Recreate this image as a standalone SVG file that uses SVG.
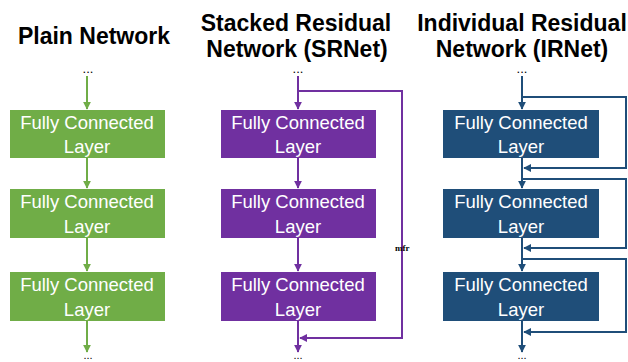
<svg xmlns="http://www.w3.org/2000/svg" width="628" height="362" viewBox="0 0 628 362">
<defs>
<marker id="ag" viewBox="0 0 10 10" refX="9" refY="5" markerWidth="4" markerHeight="4" orient="auto" markerUnits="strokeWidth"><path d="M0,0 L10,5 L0,10 z" fill="#70AD47"/></marker>
<marker id="ap" viewBox="0 0 10 10" refX="9" refY="5" markerWidth="4" markerHeight="4" orient="auto" markerUnits="strokeWidth"><path d="M0,0 L10,5 L0,10 z" fill="#7030A0"/></marker>
<marker id="ab" viewBox="0 0 10 10" refX="9" refY="5" markerWidth="4" markerHeight="4" orient="auto" markerUnits="strokeWidth"><path d="M0,0 L10,5 L0,10 z" fill="#1F4E79"/></marker>
</defs>
<style>
.title{font-family:"Liberation Sans",Arial,sans-serif;font-weight:bold;font-size:23px;fill:#000;text-anchor:middle}
.lbl{font-family:"Liberation Sans",Arial,sans-serif;font-size:18.5px;fill:#fff;text-anchor:middle}
.dots{font-family:"Liberation Sans",Arial,sans-serif;font-size:13px;fill:#000;text-anchor:middle}
.bdots{font-family:"Liberation Sans",Arial,sans-serif;font-size:11px;fill:#000;text-anchor:middle}
.g{fill:#70AD47}.p{fill:#7030A0}.b{fill:#1F4E79}
.cg{stroke:#70AD47;stroke-width:2;fill:none}
.cp{stroke:#7030A0;stroke-width:2;fill:none}
.cb{stroke:#1F4E79;stroke-width:2;fill:none}
.mfr{font-family:"Liberation Serif",serif;font-weight:bold;font-size:9px;fill:#000}
</style>
<g id="titles">
<text class="title" x="94" y="44">Plain Network</text>
<text class="title" x="296" y="31">Stacked Residual</text>
<text class="title" x="297" y="57">Network (SRNet)</text>
<text class="title" x="522" y="31">Individual Residual</text>
<text class="title" x="522" y="57">Network (IRNet)</text>
</g>
<g id="dots">
<text class="dots" x="88" y="73">...</text>
<text class="dots" x="298" y="73">...</text>
<text class="dots" x="522" y="73">...</text>
<text class="bdots" x="88" y="359">...</text>
<text class="bdots" x="298" y="359">...</text>
<text class="bdots" x="522" y="359">...</text>
</g>
<g id="connectors">
<path class="cg" d="M87,76 V109" marker-end="url(#ag)"/>
<path class="cg" d="M87,158 V188" marker-end="url(#ag)"/>
<path class="cg" d="M87,238 V271" marker-end="url(#ag)"/>
<path class="cg" d="M87,321 V352" marker-end="url(#ag)"/>
<path class="cp" d="M298,76 V109" marker-end="url(#ap)"/>
<path class="cp" d="M298,158 V188" marker-end="url(#ap)"/>
<path class="cp" d="M298,238 V271" marker-end="url(#ap)"/>
<path class="cp" d="M298,321 V352" marker-end="url(#ap)"/>
<path class="cp" d="M298,91 H402 V338 H300" marker-end="url(#ap)"/>
<path class="cb" d="M522,76 V109" marker-end="url(#ab)"/>
<path class="cb" d="M522,158 V188" marker-end="url(#ab)"/>
<path class="cb" d="M522,238 V271" marker-end="url(#ab)"/>
<path class="cb" d="M522,321 V352" marker-end="url(#ab)"/>
<path class="cb" d="M522,97 H626 V168 H524" marker-end="url(#ab)"/>
<path class="cb" d="M522,179 H626 V248 H524" marker-end="url(#ab)"/>
<path class="cb" d="M522,259 H626 V332 H524" marker-end="url(#ab)"/>
<text class="mfr" x="395" y="251">mfr</text>
</g>
<g id="plain1"><rect class="g" x="10" y="110" width="155" height="48"/><text class="lbl" x="87" y="129">Fully Connected</text><text class="lbl" x="87" y="153">Layer</text></g>
<g id="plain2"><rect class="g" x="10" y="189" width="155" height="49"/><text class="lbl" x="87" y="208">Fully Connected</text><text class="lbl" x="87" y="233">Layer</text></g>
<g id="plain3"><rect class="g" x="10" y="272" width="155" height="49"/><text class="lbl" x="87" y="291">Fully Connected</text><text class="lbl" x="87" y="316">Layer</text></g>
<g id="sr1"><rect class="p" x="221" y="110" width="155" height="48"/><text class="lbl" x="298" y="129">Fully Connected</text><text class="lbl" x="298" y="153">Layer</text></g>
<g id="sr2"><rect class="p" x="221" y="189" width="155" height="49"/><text class="lbl" x="298" y="208">Fully Connected</text><text class="lbl" x="298" y="233">Layer</text></g>
<g id="sr3"><rect class="p" x="221" y="272" width="155" height="49"/><text class="lbl" x="298" y="291">Fully Connected</text><text class="lbl" x="298" y="316">Layer</text></g>
<g id="ir1"><rect class="b" x="443" y="110" width="156" height="48"/><text class="lbl" x="521" y="129">Fully Connected</text><text class="lbl" x="521" y="153">Layer</text></g>
<g id="ir2"><rect class="b" x="443" y="189" width="156" height="49"/><text class="lbl" x="521" y="208">Fully Connected</text><text class="lbl" x="521" y="233">Layer</text></g>
<g id="ir3"><rect class="b" x="443" y="272" width="156" height="49"/><text class="lbl" x="521" y="291">Fully Connected</text><text class="lbl" x="521" y="316">Layer</text></g>
</svg>
